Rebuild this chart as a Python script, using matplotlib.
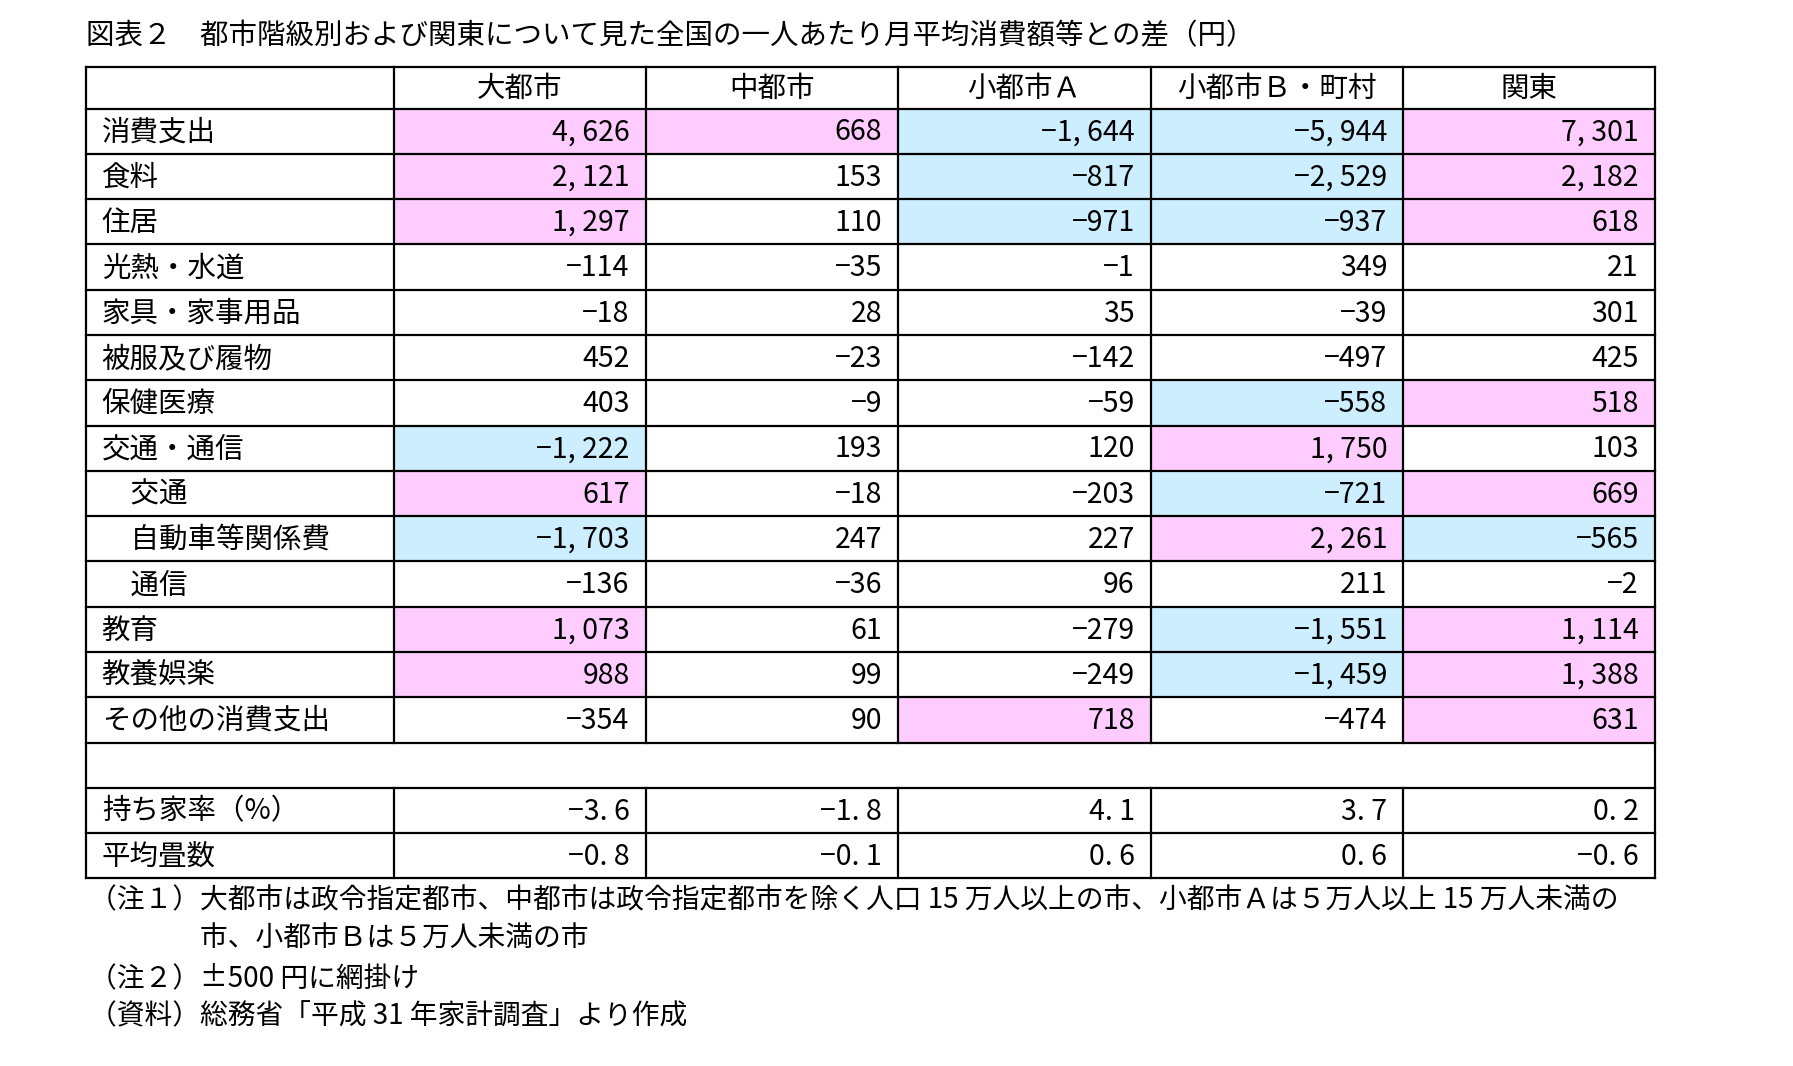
import matplotlib.pyplot as plt
from matplotlib.patches import Rectangle

plt.rcParams['font.family'] = ['Noto Sans CJK JP']

title = '図表２　都市階級別および関東について見た全国の一人あたり月平均消費額等との差（円）'
columns = ['大都市', '中都市', '小都市Ａ', '小都市Ｂ・町村', '関東']
items = ['消費支出', '食料', '住居', '光熱・水道', '家具・家事用品', '被服及び履物', '保健医療',
         '交通・通信', '　交通', '　自動車等関係費', '　通信', '教育', '教養娯楽', 'その他の消費支出']
values = [
    [4626, 668, -1644, -5944, 7301],
    [2121, 153, -817, -2529, 2182],
    [1297, 110, -971, -937, 618],
    [-114, -35, -1, 349, 21],
    [-18, 28, 35, -39, 301],
    [452, -23, -142, -497, 425],
    [403, -9, -59, -558, 518],
    [-1222, 193, 120, 1750, 103],
    [617, -18, -203, -721, 669],
    [-1703, 247, 227, 2261, -565],
    [-136, -36, 96, 211, -2],
    [1073, 61, -279, -1551, 1114],
    [988, 99, -249, -1459, 1388],
    [-354, 90, 718, -474, 631],
]
extra_items = ['持ち家率（%）', '平均畳数']
extra_values = [
    [-3.6, -1.8, 4.1, 3.7, 0.2],
    [-0.8, -0.1, 0.6, 0.6, -0.6],
]
notes = [
    '（注１）大都市は政令指定都市、中都市は政令指定都市を除く人口 15 万人以上の市、小都市Ａは５万人以上 15 万人未満の',
    '　　　　市、小都市Ｂは５万人未満の市',
    '（注２）±500 円に網掛け',
    '（資料）総務省「平成 31 年家計調査」より作成',
]
threshold = 500

W, H = 1569, 932
fig = plt.figure(figsize=(17.93, 10.66), dpi=100)
ax = fig.add_axes([0, 0, 1, 1])
ax.set_xlim(0, W)
ax.set_ylim(H, 0)
ax.axis('off')

col_x = [75, 345, 565, 786, 1007, 1228, 1448]
top, head_bot = 59, 95
rh = (768 - 95) / 17
fs = 20.5
PINK, BLUE = '#FFCCFF', '#CCEEFF'


def fmt(v):
    s = f'{abs(v):,}'.replace(',', ', ')
    return ('−' if v < 0 else '') + s


ax.text(75, 32, title, fontsize=fs, va='center', ha='left')

# header
for j, c in enumerate(columns):
    ax.text((col_x[j + 1] + col_x[j + 2]) / 2, (top + head_bot) / 2 + 1, c,
            fontsize=fs, ha='center', va='center')

rows = list(zip(items, values)) + [(None, None)] + list(zip(extra_items, extra_values))
for i, (name, vals) in enumerate(rows):
    y0 = head_bot + i * rh
    yc = y0 + rh / 2 + 1
    if name is None:
        continue
    ax.text(col_x[0] + 14, yc, name, fontsize=fs, ha='left', va='center')
    for j, v in enumerate(vals):
        if i < len(items) and abs(v) >= threshold:
            ax.add_patch(Rectangle((col_x[j + 1], y0), col_x[j + 2] - col_x[j + 1], rh,
                                   facecolor=PINK if v > 0 else BLUE, edgecolor='none', zorder=0))
        label = fmt(v) if isinstance(v, int) else ('−' if v < 0 else '') + f'{abs(v):.1f}'.replace('.', '. ')
        ax.text(col_x[j + 2] - 14, yc, label, fontsize=fs, ha='right', va='center')

# grid lines
bottom = head_bot + 17 * rh
ys = [top, head_bot] + [head_bot + k * rh for k in range(1, 18)]
for y in ys:
    ax.plot([col_x[0], col_x[-1]], [y, y], color='black', lw=1.6)
for x in col_x:
    if x in (col_x[0], col_x[-1]):
        ax.plot([x, x], [top, bottom], color='black', lw=1.6)
    else:
        ax.plot([x, x], [top, head_bot + 14 * rh], color='black', lw=1.6)
        ax.plot([x, x], [head_bot + 15 * rh, bottom], color='black', lw=1.6)

for k, n in enumerate(notes):
    ax.text(78, 787 + k * 34, n, fontsize=fs - 0.5, ha='left', va='center')

fig.savefig('out.png', dpi=100, facecolor='white')
